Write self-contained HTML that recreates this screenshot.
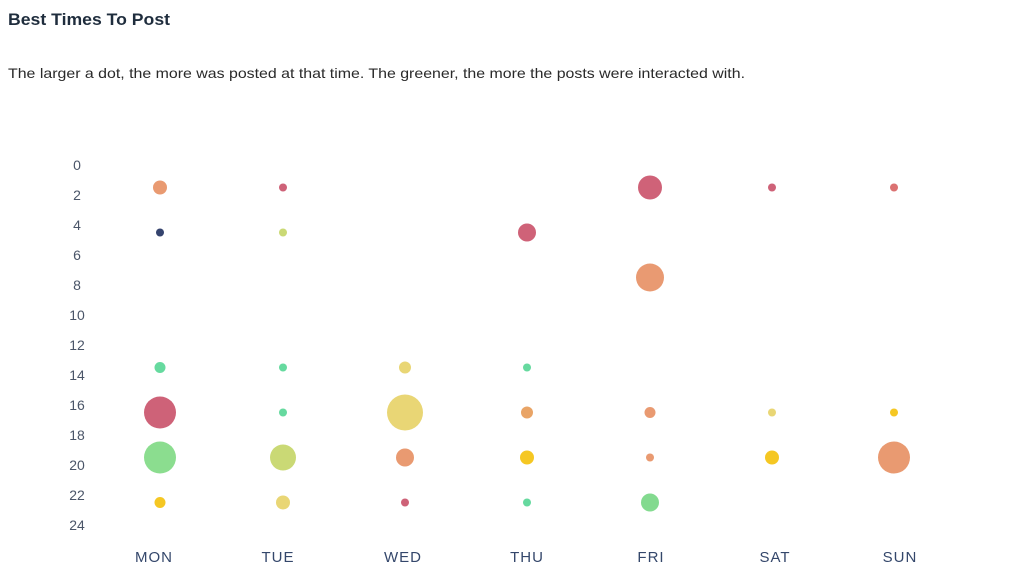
<!DOCTYPE html>
<html><head><meta charset="utf-8"><style>
body{margin:0;width:1024px;height:577px;background:#fff;font-family:"Liberation Sans",sans-serif;overflow:hidden}
</style></head><body>
<svg width="1024" height="577" xmlns="http://www.w3.org/2000/svg" style="position:absolute;left:0;top:0">
<text x="8" y="25" font-size="17" font-weight="bold" fill="#1f2d3d" textLength="162" lengthAdjust="spacingAndGlyphs">Best Times To Post</text>
<text x="8" y="78" font-size="14" fill="#2a2a2a" textLength="737" lengthAdjust="spacingAndGlyphs">The larger a dot, the more was posted at that time. The greener, the more the posts were interacted with.</text>
<g font-size="14" fill="#4a5568" text-anchor="middle">
<text x="77" y="170">0</text><text x="77" y="200">2</text><text x="77" y="230">4</text><text x="77" y="260">6</text><text x="77" y="290">8</text><text x="77" y="320">10</text><text x="77" y="350">12</text><text x="77" y="380">14</text><text x="77" y="410">16</text><text x="77" y="440">18</text><text x="77" y="470">20</text><text x="77" y="500">22</text><text x="77" y="530">24</text>
</g>
<g font-size="15" fill="#34476b" text-anchor="middle" letter-spacing="1">
<text x="154" y="562">MON</text><text x="278" y="562">TUE</text><text x="403" y="562">WED</text><text x="527" y="562">THU</text><text x="651" y="562">FRI</text><text x="775" y="562">SAT</text><text x="900" y="562">SUN</text>
</g>
<g opacity="0.95">
<circle cx="160" cy="187.5" r="7" fill="#e8956a"/>
<circle cx="160" cy="232.5" r="4" fill="#2b3a67"/>
<circle cx="160" cy="367.5" r="5.5" fill="#5ed89a"/>
<circle cx="160" cy="412.5" r="16" fill="#cc5a71"/>
<circle cx="160" cy="457.5" r="16" fill="#85dc8a"/>
<circle cx="160" cy="502.5" r="5.5" fill="#f5c518"/>
<circle cx="283" cy="187.5" r="4" fill="#cc5a71"/>
<circle cx="283" cy="232.5" r="4" fill="#c8d86e"/>
<circle cx="283" cy="367.5" r="4" fill="#5ed89a"/>
<circle cx="283" cy="412.5" r="4" fill="#5ed89a"/>
<circle cx="283" cy="457.5" r="13" fill="#c8d86e"/>
<circle cx="283" cy="502.5" r="7" fill="#e8d46e"/>
<circle cx="405" cy="367.5" r="6" fill="#e8d46e"/>
<circle cx="405" cy="412.5" r="18" fill="#e8d46e"/>
<circle cx="405" cy="457.5" r="9" fill="#e8956a"/>
<circle cx="405" cy="502.5" r="4" fill="#cc5a71"/>
<circle cx="527" cy="232.5" r="9" fill="#cc5a71"/>
<circle cx="527" cy="367.5" r="4" fill="#5ed89a"/>
<circle cx="527" cy="412.5" r="6" fill="#e8a05e"/>
<circle cx="527" cy="457.5" r="7" fill="#f5c518"/>
<circle cx="527" cy="502.5" r="4" fill="#5ed89a"/>
<circle cx="650" cy="187.5" r="12" fill="#cc5a71"/>
<circle cx="650" cy="277.5" r="14" fill="#e8956a"/>
<circle cx="650" cy="412.5" r="5.5" fill="#e8956a"/>
<circle cx="650" cy="457.5" r="4" fill="#e8956a"/>
<circle cx="650" cy="502.5" r="9" fill="#7dd98a"/>
<circle cx="772" cy="187.5" r="4" fill="#cc5a71"/>
<circle cx="772" cy="412.5" r="4" fill="#e8d46e"/>
<circle cx="772" cy="457.5" r="7" fill="#f5c518"/>
<circle cx="894" cy="187.5" r="4" fill="#d96a6a"/>
<circle cx="894" cy="412.5" r="4" fill="#f5c518"/>
<circle cx="894" cy="457.5" r="16" fill="#e8956a"/>
</g>
</svg>
</body></html>
